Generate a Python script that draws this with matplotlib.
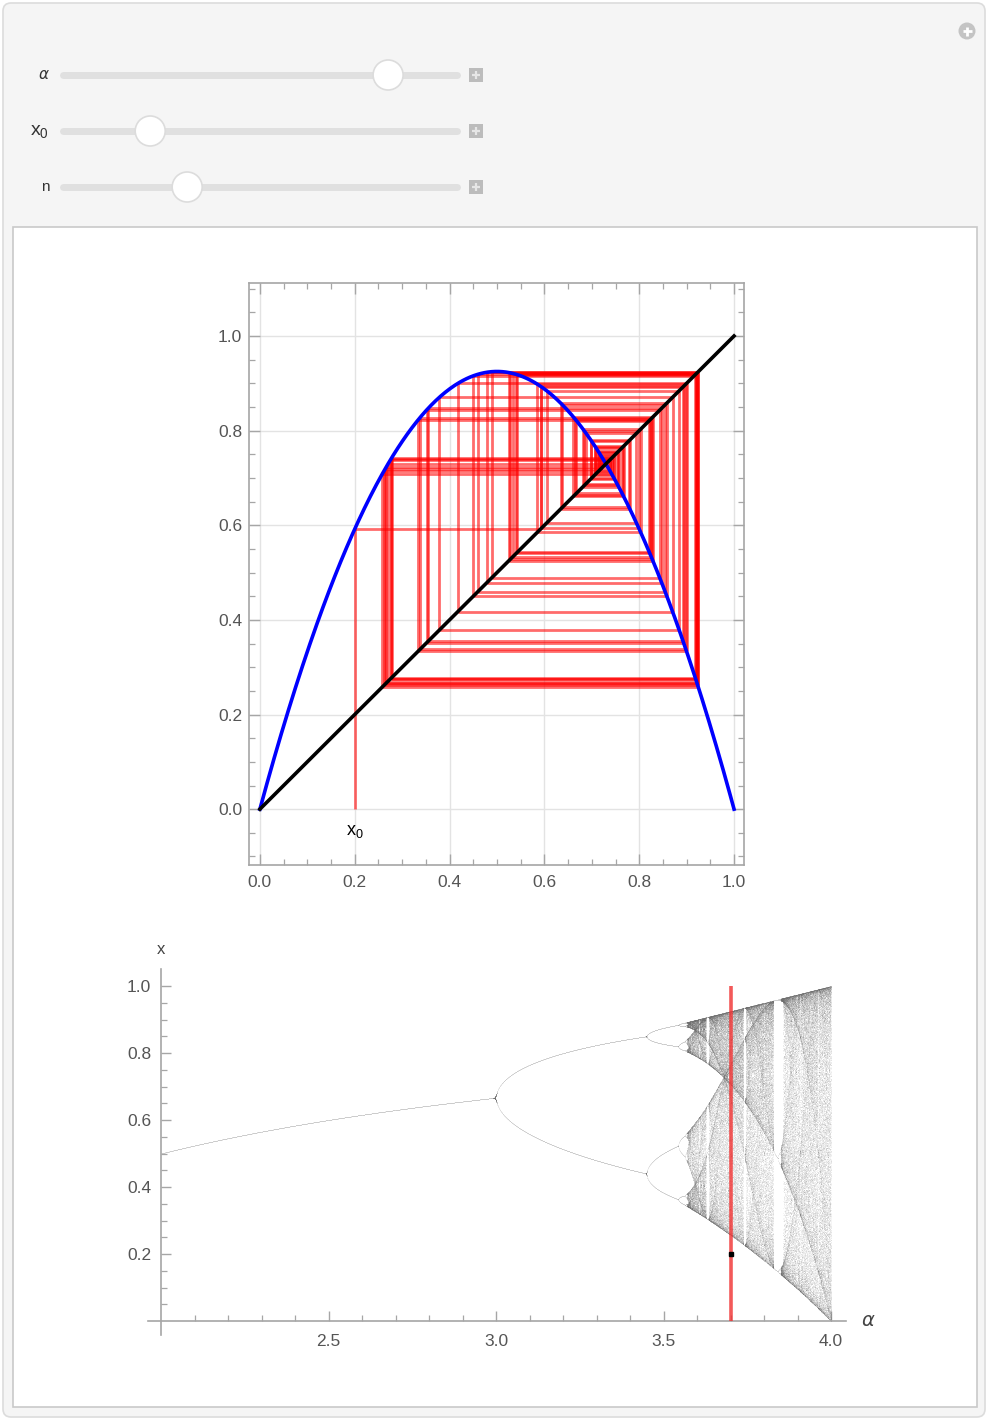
import numpy as np
import matplotlib
matplotlib.use("Agg")
import matplotlib.pyplot as plt
from matplotlib.patches import FancyBboxPatch, Circle, Rectangle
from matplotlib.collections import LineCollection
from matplotlib.ticker import MultipleLocator, FixedLocator

plt.rcParams["font.family"] = ["Liberation Sans", "DejaVu Sans"]

# ---- control settings ----------------------------------------------------
alpha_value = 3.7          # growth parameter of the logistic map
x_start = 0.2              # initial value x0
n_steps = 91               # number of cobweb iterations
alpha_limits = (2.0, 4.0)  # slider range for alpha
x0_limits = (0.0, 1.0)     # slider range for x0
n_limits = (1, 300)        # slider range for n

# ---- bifurcation sweep settings ------------------------------------------
sweep_start, sweep_stop, sweep_step = 2.0, 4.0, 0.0005
transient_steps = 600
kept_steps = 200

# ---- axis ticks ----------------------------------------------------------
cobweb_ticks = [0.0, 0.2, 0.4, 0.6, 0.8, 1.0]
cobweb_tick_labels = ["0.0", "0.2", "0.4", "0.6", "0.8", "1.0"]
bif_x_ticks = [2.5, 3.0, 3.5, 4.0]
bif_x_labels = ["2.5", "3.0", "3.5", "4.0"]
bif_y_ticks = [0.2, 0.4, 0.6, 0.8, 1.0]
bif_y_labels = ["0.2", "0.4", "0.6", "0.8", "1.0"]


def logistic(a, x):
    return a * x * (1.0 - x)


W, H = 990, 1424
fig = plt.figure(figsize=(W / 100, H / 100), dpi=100)
fig.patch.set_facecolor("white")


def fig_rect(left, top, right, bottom):
    return [left / W, 1 - bottom / H, (right - left) / W, (bottom - top) / H]


# ---- panel chrome (pixel coordinates) ------------------------------------
bg = fig.add_axes([0, 0, 1, 1], zorder=-10)
bg.set_xlim(0, W)
bg.set_ylim(H, 0)
bg.axis("off")

bg.add_patch(FancyBboxPatch((3, 3), W - 8, H - 10,
                            boxstyle="round,pad=0,rounding_size=8",
                            fc="#f5f5f5", ec="#dcdcdc", lw=1.2))
bg.add_patch(Rectangle((13, 227), 964, 1180, fc="white", ec="#c9c9c9", lw=1.2))

# top-right "+" button
bg.add_patch(Circle((967, 31), 8.5, fc="#c4c4c4", ec="none"))
bg.plot([962.5, 971.5], [31, 31], color="white", lw=2, solid_capstyle="butt")
bg.plot([967, 967], [26.5, 35.5], color="white", lw=2, solid_capstyle="butt")


def slider(y, frac, label, label_x, size=11):
    bg.plot([63, 457], [y, y], color="#e0e0e0", lw=5, solid_capstyle="round")
    cx = 77 + frac * 366
    bg.add_patch(Circle((cx, y), 15, fc="white", ec="#dcdcdc", lw=1.2, zorder=5))
    bg.add_patch(Rectangle((469, y - 7), 14, 14, fc="#bcbcbc", ec="none"))
    bg.plot([472, 480], [y, y], color="#e6e6e6", lw=1.6, solid_capstyle="butt")
    bg.plot([476, 476], [y - 4, y + 4], color="#e6e6e6", lw=1.6, solid_capstyle="butt")
    bg.text(label_x, y, label, ha="right", va="center", fontsize=size, color="#333333")


slider(75, (alpha_value - alpha_limits[0]) / (alpha_limits[1] - alpha_limits[0]),
       r"$\alpha$", 50)
slider(131, (x_start - x0_limits[0]) / (x0_limits[1] - x0_limits[0]),
       r"$\mathregular{x_0}$", 49, size=14)
slider(187, (n_steps - n_limits[0]) / (n_limits[1] - n_limits[0]), "n", 50)

# ---- cobweb plot ---------------------------------------------------------
gray_frame = "#a6a6a6"
label_gray = "#555555"

ax = fig.add_axes(fig_rect(249, 283, 744, 865))
ax.set_xlim(-0.023, 1.021)
ax.set_ylim(-0.118, 1.112)
for s in ax.spines.values():
    s.set_color(gray_frame)
    s.set_linewidth(1.2)
ax.xaxis.set_major_locator(FixedLocator(cobweb_ticks))
ax.yaxis.set_major_locator(FixedLocator(cobweb_ticks))
ax.set_xticklabels(cobweb_tick_labels)
ax.set_yticklabels(cobweb_tick_labels)
ax.xaxis.set_minor_locator(MultipleLocator(0.05))
ax.yaxis.set_minor_locator(MultipleLocator(0.05))
ax.tick_params(which="both", direction="in", top=True, right=True,
               color=gray_frame, labelcolor=label_gray, labelsize=12.5)
ax.tick_params(which="major", length=8, width=1)
ax.tick_params(which="minor", length=4.5, width=0.9)
ax.tick_params(axis="x", pad=7)
ax.tick_params(axis="y", pad=5)
ax.grid(True, which="major", color="#e3e3e3", lw=1)
ax.set_axisbelow(True)

xs = np.linspace(0, 1, 400)
ax.plot(xs, logistic(alpha_value, xs), color="#0000ff", lw=2.6, zorder=4)
ax.plot([0, 1], [0, 1], color="black", lw=2.6, zorder=4)

# cobweb path: up to the curve, across to the diagonal, repeat
path = [(x_start, 0.0)]
x = x_start
for _ in range(n_steps):
    y = logistic(alpha_value, x)
    path.append((x, y))
    path.append((y, y))
    x = y
segments = [[path[i], path[i + 1]] for i in range(len(path) - 1)]
ax.add_collection(LineCollection(segments, colors="red", linewidths=2.0,
                                 alpha=0.58, zorder=3))
ax.text(x_start, -0.048, r"$\mathregular{x_0}$", ha="center", va="center",
        fontsize=13, color="black")

# ---- bifurcation diagram -------------------------------------------------
alphas = np.arange(sweep_start, sweep_stop + sweep_step / 2, sweep_step)
xv = np.full_like(alphas, 0.3)
for _ in range(transient_steps):
    xv = logistic(alphas, xv)
orbit = np.empty((kept_steps, alphas.size))
for k in range(kept_steps):
    xv = logistic(alphas, xv)
    orbit[k] = xv
pts_a, pts_x = [], []
for j, a in enumerate(alphas):
    vals = np.unique(np.round(orbit[:, j], 4))
    pts_a.append(np.full(vals.size, a))
    pts_x.append(vals)
pts_a = np.concatenate(pts_a)
pts_x = np.concatenate(pts_x)

bx = fig.add_axes(fig_rect(140, 960, 850, 1345))
x_lo, x_hi = 2 + (140 - 161) / 335, 2 + (850 - 161) / 335
y_lo, y_hi = (1321 - 1345) / 335, (1321 - 960) / 335
bx.set_xlim(x_lo, x_hi)
bx.set_ylim(y_lo, y_hi)
bx.patch.set_alpha(0)
bx.spines["top"].set_visible(False)
bx.spines["right"].set_visible(False)
bx.spines["left"].set_position(("data", 2.0))
bx.spines["bottom"].set_position(("data", 0.0))
bx.spines["left"].set_bounds(-0.042, 1.05)
bx.spines["bottom"].set_bounds(1.962, 4.045)
for s in ("left", "bottom"):
    bx.spines[s].set_color(gray_frame)
    bx.spines[s].set_linewidth(1.2)
bx.xaxis.set_major_locator(FixedLocator(bif_x_ticks))
bx.set_xticklabels(bif_x_labels)
bx.yaxis.set_major_locator(FixedLocator(bif_y_ticks))
bx.set_yticklabels(bif_y_labels)
bx.xaxis.set_minor_locator(FixedLocator(np.round(np.arange(2.1, 4.0, 0.1), 2)))
bx.yaxis.set_minor_locator(FixedLocator(np.round(np.arange(0.05, 1.0, 0.05), 2)))
bx.tick_params(which="both", direction="in", color=gray_frame,
               labelcolor=label_gray, labelsize=12.5)
bx.tick_params(which="major", length=7, width=1)
bx.tick_params(which="minor", length=4, width=0.9)
bx.tick_params(axis="x", pad=9)
bx.tick_params(axis="y", pad=7)

bx.scatter(pts_a, pts_x, s=0.5, c="#707070", alpha=0.04, lw=0,
           rasterized=True, zorder=2)
bx.plot([alpha_value, alpha_value], [0, 1], color="#f03030", lw=2.6,
        alpha=0.8, zorder=3, solid_capstyle="butt")
bx.plot([alpha_value], [x_start], "s", ms=3, color="black", zorder=4)

bx.text(2.0, 1.11, "x", ha="center", va="center", fontsize=12,
        color="#444444", clip_on=False)
bx.text(4.11, 0.0, r"$\alpha$", ha="center", va="center", fontsize=14,
        color="#444444", clip_on=False)

fig.savefig("out.png", dpi=100, facecolor="white")
